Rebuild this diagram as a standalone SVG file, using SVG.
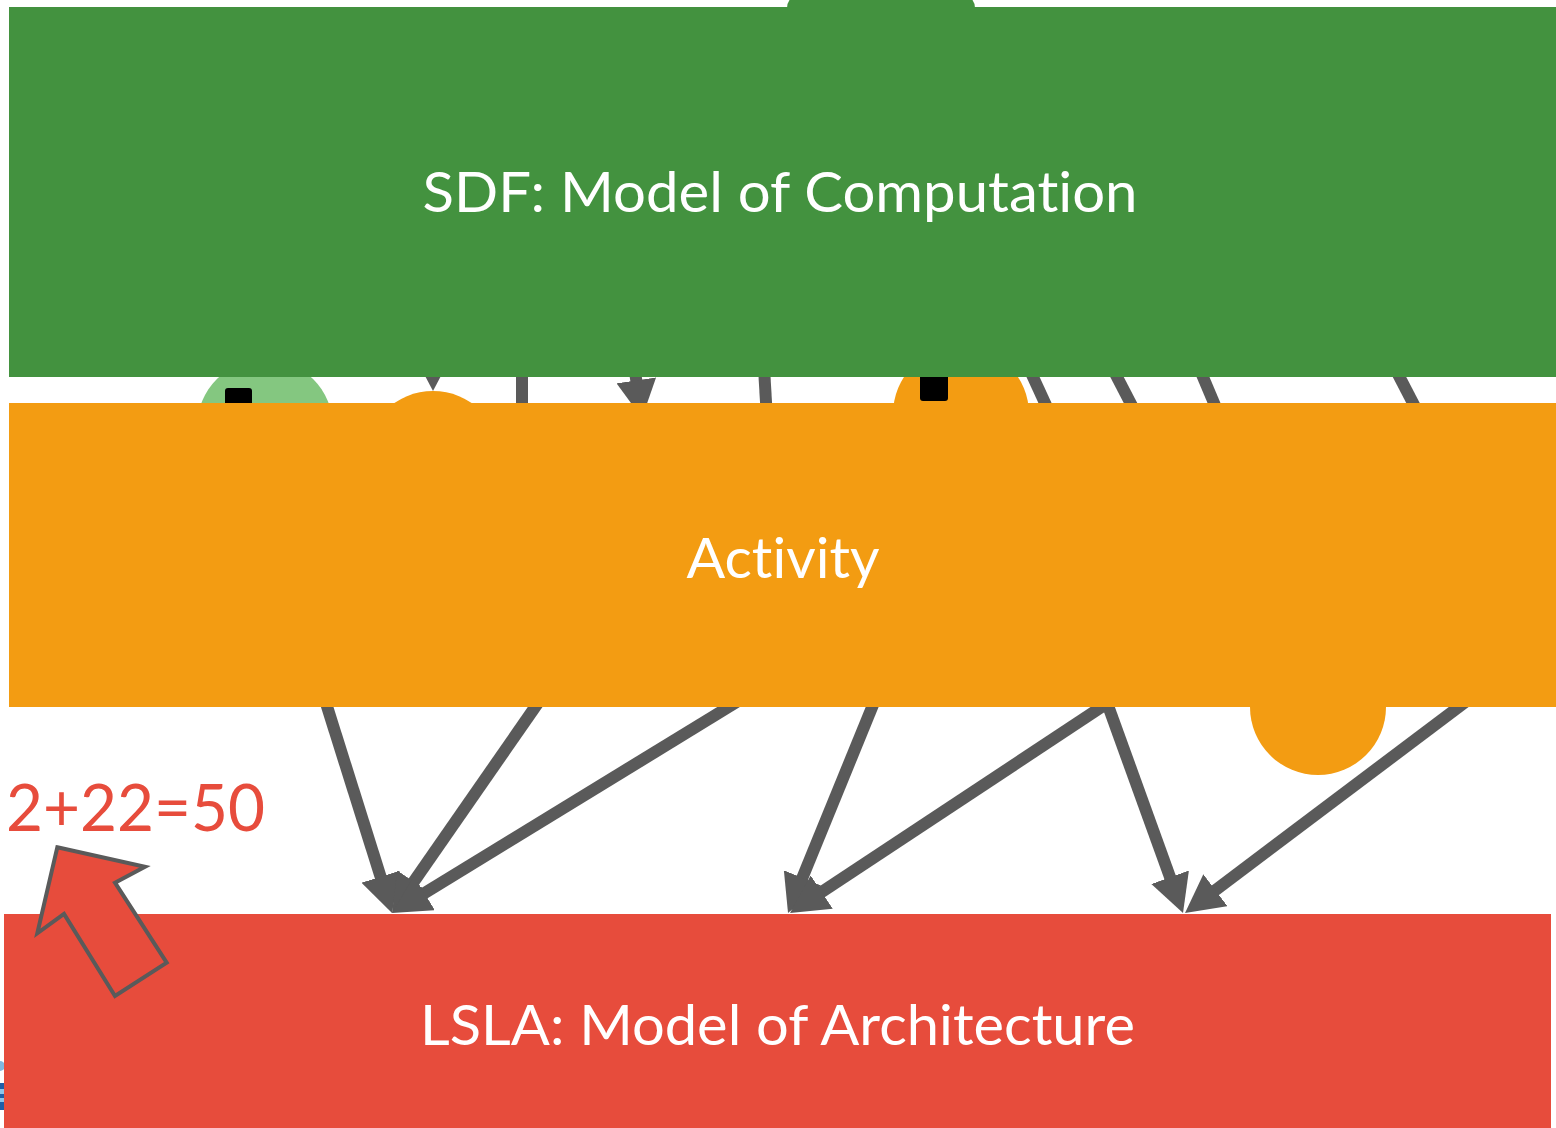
<svg xmlns="http://www.w3.org/2000/svg" width="1556" height="1128" viewBox="0 0 1556 1128">
  <style>
    .band-label { font-family: Lato, "Open Sans", "Liberation Sans", sans-serif; font-size: 56px; fill: #FFFFFF; text-anchor: middle; font-variant-ligatures: none; font-feature-settings: "liga" 0, "clig" 0; }
    .note { font-family: Lato, "Open Sans", "Liberation Sans", sans-serif; font-size: 65px; fill: #E74C3C; }
    .edge { stroke: #5A5A5A; stroke-width: 12; fill: none; }
    .arrow { marker-end: url(#head); }
    .actor-green { fill: #84C780; }
    .actor-orange { fill: #F39C12; }
    .port { fill: #000000; }
  </style>
  <defs>
    <marker id="head" markerUnits="userSpaceOnUse" markerWidth="40" markerHeight="40" refX="10" refY="20" orient="auto">
      <path d="M0,0 L38,20 L0,40 Z" fill="#5A5A5A"/>
    </marker>
  </defs>

  <rect width="1556" height="1128" fill="#FFFFFF"/>

  <!-- actors partly covered by the layer bands -->
  <g id="actor-top">
    <rect x="787" y="-6" width="188" height="60" rx="14" fill="#43923F"/>
  </g>
  <g id="actor-src">
    <circle class="actor-green" cx="265" cy="427" r="68"/>
    <rect class="port" x="225" y="388" width="27" height="40" rx="3"/>
  </g>
  <g id="actor-a">
    <circle class="actor-orange" cx="433" cy="459" r="68"/>
  </g>
  <g id="actor-b">
    <circle class="actor-orange" cx="961" cy="414" r="68"/>
    <rect class="port" x="920" y="355" width="28" height="46" rx="3"/>
  </g>
  <g id="actor-c">
    <circle class="actor-orange" cx="1318" cy="707" r="68"/>
  </g>
  <g id="platform-icon">
    <circle cx="0" cy="1066" r="5" fill="#7FB8E0"/>
    <rect x="-10" y="1083" width="14" height="6" fill="#1F5FA8"/>
    <rect x="-10" y="1089" width="14" height="5" fill="#8EC5EA"/>
    <rect x="-10" y="1094" width="14" height="4" fill="#1F5FA8"/>
    <rect x="-10" y="1098" width="14" height="4" fill="#8EC5EA"/>
    <rect x="-10" y="1102" width="14" height="8" fill="#1F5FA8"/>
  </g>

  <!-- connectors -->
  <g id="connectors">
    <line class="edge arrow" x1="433" y1="250" x2="433" y2="363"/>
    <line class="edge arrow" x1="612" y1="220" x2="637.8" y2="390.3"/>
    <line class="edge" x1="522" y1="340" x2="522" y2="440"/>
    <line class="edge" x1="762.4" y1="340" x2="768.2" y2="440"/>
    <line class="edge" x1="1016" y1="340" x2="1062" y2="440"/>
    <line class="edge" x1="1097.8" y1="340" x2="1149.7" y2="440"/>
    <line class="edge" x1="1187.4" y1="340" x2="1229.6" y2="440"/>
    <line class="edge" x1="1380.3" y1="340" x2="1432.2" y2="440"/>

    <line class="edge arrow" x1="325" y1="700" x2="383.6" y2="886.3"/>
    <line class="edge arrow" x1="540" y1="700" x2="408" y2="890"/>
    <line class="edge arrow" x1="740" y1="700" x2="415.9" y2="898.4"/>
    <line class="edge arrow" x1="875" y1="700" x2="798.6" y2="887.1"/>
    <line class="edge arrow" x1="1112" y1="700" x2="813.4" y2="897.6"/>
    <line class="edge arrow" x1="1106" y1="700" x2="1173.5" y2="886.7"/>
    <line class="edge arrow" x1="1468" y1="700" x2="1207.4" y2="896.2"/>
  </g>

  <!-- layer bands -->
  <g id="sdf">
    <rect x="9" y="7" width="1547" height="370" fill="#43923F"/>
    <text class="band-label" x="780" y="212" textLength="715" lengthAdjust="spacingAndGlyphs">SDF: Model of Computation</text>
  </g>
  <g id="activity">
    <rect x="9" y="403" width="1547" height="304" fill="#F39C12"/>
    <text class="band-label" x="783" y="578" textLength="193" lengthAdjust="spacingAndGlyphs">Activity</text>
  </g>
  <g id="lsla">
    <rect x="4" y="914" width="1547" height="214" fill="#E74C3C"/>
    <text class="band-label" x="777.5" y="1045" textLength="715" lengthAdjust="spacingAndGlyphs">LSLA: Model of Architecture</text>
  </g>

  <!-- cost annotation -->
  <g id="cost-note">
    <text class="note" x="6" y="831" textLength="259" lengthAdjust="spacingAndGlyphs">2+22=50</text>
    <polygon points="57.3,847.3 145,866.7 115,882.7 166.7,962.7 115,996 64,914 37.3,933.3" fill="#E74C3C" stroke="#5A5A5A" stroke-width="4"/>
  </g>
</svg>
